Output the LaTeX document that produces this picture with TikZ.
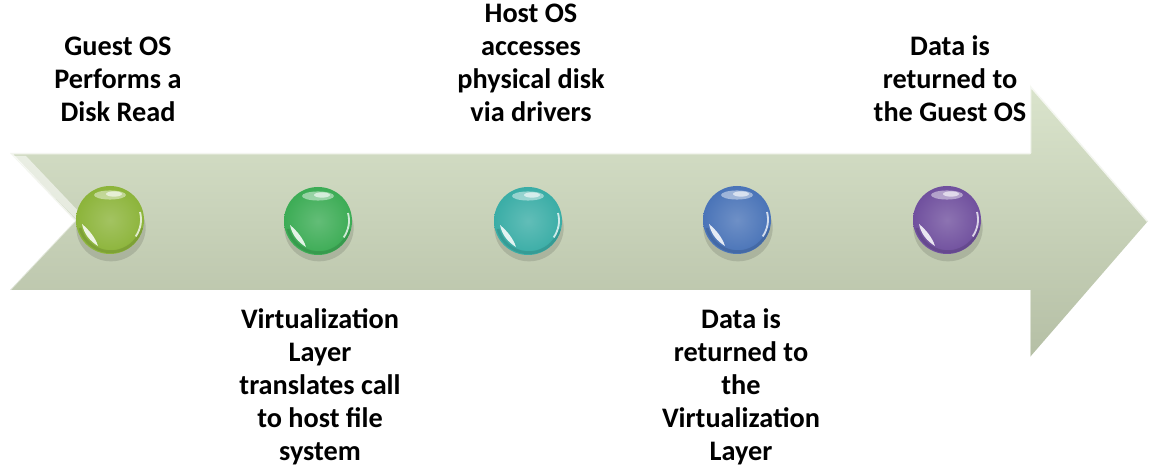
\documentclass[tikz,border=0pt]{standalone}
\usepackage{fontspec}
\setmainfont{Carlito}
\usetikzlibrary{calc}

\definecolor{arrowtop}{RGB}{218,228,204}
\definecolor{arrowbot}{RGB}{181,191,165}
\definecolor{limeball}{RGB}{140,180,58}
\definecolor{greenball}{RGB}{60,172,85}
\definecolor{tealball}{RGB}{58,173,166}
\definecolor{blueball}{RGB}{74,116,184}
\definecolor{purpleball}{RGB}{112,80,158}

\tikzset{
  label text/.style={font=\fontsize{21.2}{24.75}\selectfont\bfseries, align=center, inner sep=0pt},
  gem/.style={circle, minimum size=51pt, inner sep=0pt,
    inner color=#1!80!white, outer color=#1,
    path picture={
      \coordinate (pc) at (path picture bounding box.center);
      % soft darker rim towards the lower edge
      \draw[#1!70!black, line width=2.2pt, opacity=0.35]
        ($(pc)+(-30,8)$) arc[start angle=-165, end angle=-15, radius=24pt];
    }},
  gem shadow/.style={fill=black, opacity=0.12},
  gloss/.style={fill=white}
}

\begin{document}
\begin{tikzpicture}[x=0.75pt, y=-0.75pt]
  \useasboundingbox (0,0) rectangle (1150,466);

  % the large arrow carrying the steps
  \shade[top color=arrowtop, bottom color=arrowbot]
    (10,153) -- (1030,153) -- (1030,85) -- (1148,221) -- (1030,357)
    -- (1030,290) -- (10,290) -- (75,221) -- cycle;
  % bevel highlights on the upper edges
  \draw[white, opacity=0.75, line width=2.2pt, line join=round]
    (75,221) -- (10,153) -- (1030,153) -- (1030,85) -- (1148,221);
  \fill[white, opacity=0.55] (14,156) -- (26,156) -- (82,215) -- (76,219) -- cycle;
  \draw[white, opacity=0.5, line width=1.2pt] (10,290) -- (75,221);
  \draw[white, opacity=0.5, line width=1.2pt] (1030,290) -- (1030,357);

  % shadows under the balls
  \foreach \cx in {110,318,528,737,947}
    \fill[gem shadow] (\cx+1,228) ellipse[x radius=26pt, y radius=25pt];

  % the five steps
  \node[gem=limeball]   (b1) at (110,220) {};
  \node[gem=greenball]  (b2) at (318,221) {};
  \node[gem=tealball]   (b3) at (528,221) {};
  \node[gem=blueball]   (b4) at (737,220) {};
  \node[gem=purpleball] (b5) at (947,220) {};

  % glossy reflections on every ball
  \foreach \b in {b1,b2,b3,b4,b5} {
    \begin{scope}[shift={(\b.center)}]
      % top reflection
      \fill[gloss, opacity=0.45] (0,-25) ellipse[x radius=12pt, y radius=3.4pt];
      \fill[gloss, opacity=0.6] (4,-26) ellipse[x radius=6pt, y radius=2pt];
      % crescent streak along the lower left edge
      \fill[gloss, opacity=0.85]
        (-28,4) .. controls (-26,14) and (-20,21) .. (-12,26)
                .. controls (-15,17) and (-21,10) .. (-28,4) -- cycle;
      % thin light arc on the right
      \draw[white, opacity=0.75, line width=1.4pt]
        (30,-8) arc[start angle=15, end angle=-35, radius=22pt];
    \end{scope}
  }

  % step descriptions, alternating above and below the arrow
  \node[label text, anchor=south] (t1) at (118,122) {Guest OS\\Performs a\\Disk Read};
  \node[label text, anchor=south] (t3) at (531,122) {Host OS\\accesses\\physical disk\\via drivers};
  \node[label text, anchor=south] (t5) at (950,122) {Data is\\returned to\\the Guest OS};
  \node[label text, anchor=north] (t2) at (320,308) {Virtualization\\Layer\\translates call\\to host file\\system};
  \node[label text, anchor=north] (t4) at (741,308) {Data is\\returned to\\the\\Virtualization\\Layer};
\end{tikzpicture}
\end{document}
